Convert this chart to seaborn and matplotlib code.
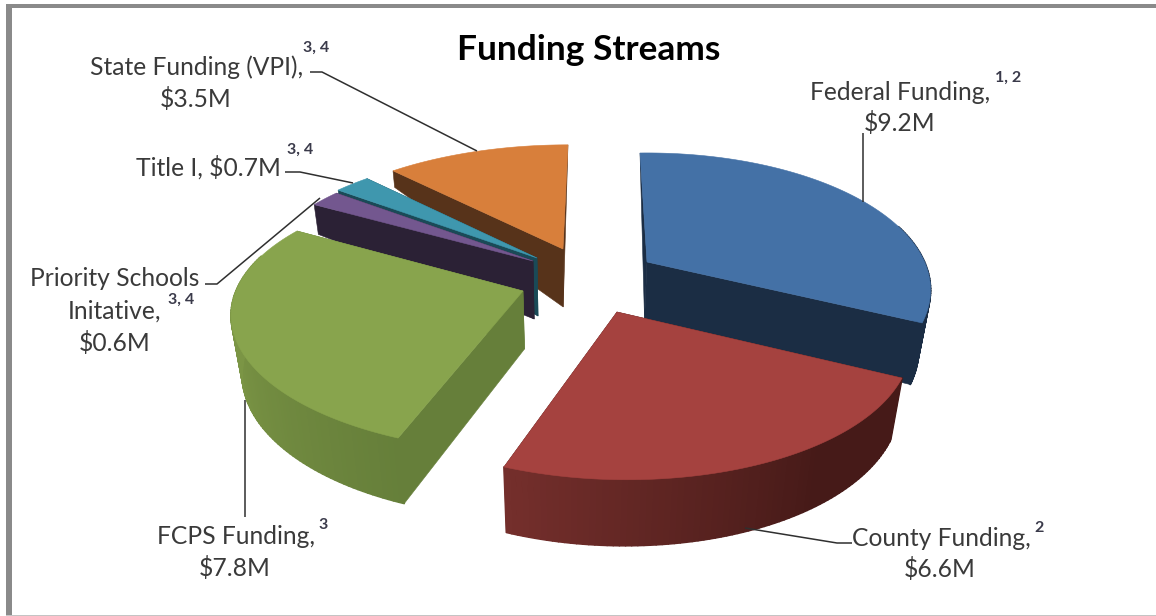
import numpy as np
import matplotlib
matplotlib.use("Agg")
import matplotlib.pyplot as plt
from matplotlib.collections import PolyCollection
from matplotlib.patches import Polygon, Rectangle
import seaborn as sns

# Funding data in $M, clockwise from twelve o'clock
categories = ["Federal Funding", "County Funding", "FCPS Funding",
              "Priority Schools Initative", "Title I", "State Funding (VPI)"]
values = [9.2, 6.6, 7.8, 0.6, 0.7, 3.5]
footnotes = ["1, 2", "2", "3", "3, 4", "3, 4", "3, 4"]

sns.set_theme(style="white")
plt.rcParams["font.family"] = ["Lato", "DejaVu Sans"]

top_colors = sns.color_palette(["#4471a6", "#a5423f", "#88a44d",
                                "#73578f", "#3f97ae", "#d87f3b"])
face_colors = sns.color_palette(["#1b2d44", "#461a18", "#667f3a",
                                 "#2b2135", "#1a4a57", "#57331a"])

# Lighter rim colour and the clock angles over which it fades to the face colour
rim_fade = {1: ("#752f2c", 200.0, 145.0), 2: ("#7b9545", 255.0, 200.0)}

# Exploded slice placement: hub position and a 2x2 plane-to-screen matrix per slice
views = [
    ((647, 262), (276.0, -8.4, -3.5, -130.8)),
    ((617, 312), (286.3, -7.9, 0.0, -134.2)),
    ((523, 291), (285.5, 2.7, 3.6, -128.7)),
    ((533, 261), (275.0, 0.0, 0.0, -127.0)),
    ((537, 258), (278.0, 0.0, 0.0, -127.0)),
    ((563, 249), (284.0, 6.0, 0.0, -125.0)),
]
PERSPECTIVE = 0.2
THICKNESS = 58.0
VANISH_X, CONVERGE = 570.0, 0.033
paint_order = [5, 4, 3, 2, 0, 1]

fig = plt.figure(figsize=(11.56, 6.16), dpi=100, facecolor="white")
ax = fig.add_axes([0, 0, 1, 1])
ax.set_xlim(0, 1156)
ax.set_ylim(616, 0)
ax.axis("off")


def to_screen(theta, view, r=1.0):
    """Project disc points at clock angle theta (degrees) onto the canvas."""
    (hx, hy), (a, b, c, e) = view
    th = np.radians(np.atleast_1d(theta))
    u, v = r * np.sin(th), r * np.cos(th)
    s = 1.0 / (1.0 + PERSPECTIVE * v)
    U, V = u * s, v * s
    return np.column_stack([hx + a * U + b * V, hy + c * U + e * V]), v


def drop(points, v):
    """Lower edge of the slice below a set of top-surface points."""
    depth = np.where(v > 0, THICKNESS * (1 - v), THICKNESS - 8.0 * v)
    x = points[:, 0] - CONVERGE * (points[:, 0] - VANISH_X) * depth / 60.0
    return np.column_stack([x, points[:, 1] + depth])


def blend(c0, c1, f):
    return tuple((1 - f) * np.array(matplotlib.colors.to_rgb(c0))
                 + f * np.array(matplotlib.colors.to_rgb(c1)))


edges = np.concatenate([[0.0], np.cumsum(values)]) / np.sum(values) * 360.0

for z, i in enumerate(paint_order):
    view = views[i]
    t0, t1 = edges[i], edges[i + 1]
    thetas = np.linspace(t0, t1, max(int(t1 - t0), 4))
    rim, v_rim = to_screen(thetas, view)
    rim_low = drop(rim, v_rim)
    hub, v_hub = to_screen(0.0, view, r=0.0)
    hub_low = drop(hub, v_hub)
    base = 10 + z * 5

    # Radial cut faces
    for end, end_low in ((rim[0], rim_low[0]), (rim[-1], rim_low[-1])):
        ax.add_patch(Polygon([hub[0], end, end_low, hub_low[0]], closed=True,
                             facecolor=face_colors[i], edgecolor=face_colors[i],
                             linewidth=0.4, zorder=base))

    # Outer wall, split in strips so the shading can vary along the arc;
    # the far side of the rim stays hidden behind the top surface
    quads, shades = [], []
    for k in range(len(thetas) - 1):
        if v_rim[k] > 0.25 and v_rim[k + 1] > 0.25:
            continue
        quads.append([rim[k], rim[k + 1], rim_low[k + 1], rim_low[k]])
        shade = face_colors[i]
        if i in rim_fade:
            light, start, stop = rim_fade[i]
            f = np.clip((start - thetas[k]) / (start - stop), 0, 1)
            shade = blend(light, face_colors[i], f)
        shades.append(shade)
    if quads:
        ax.add_collection(PolyCollection(quads, facecolors=shades, edgecolors=shades,
                                         linewidths=1.2, zorder=base + 1))

    # Top surface
    ax.add_patch(Polygon(np.vstack([hub, rim]), closed=True,
                         facecolor=top_colors[i], edgecolor=top_colors[i],
                         linewidth=0.4, zorder=base + 2))

# Chart frame
frame = "#8a8a8a"
ax.add_patch(Rectangle((6, 4), 6, 612, facecolor=frame, edgecolor="none", zorder=60))
ax.add_patch(Rectangle((6, 4), 1150, 4, facecolor=frame, edgecolor="none", zorder=60))
ax.add_patch(Rectangle((6, 614.5), 1150, 1.5, facecolor="#c4c4c4", edgecolor="none", zorder=60))

# Leader lines
leaders = [
    [(863, 133), (863, 202)],
    [(852, 543), (837, 543), (745, 528)],
    [(245, 517), (245, 400)],
    [(205, 284), (217, 284), (320, 198)],
    [(285, 172), (300, 172), (353, 183)],
    [(310, 72), (322, 72), (477, 151)],
]
for path in leaders:
    xs, ys = zip(*path)
    ax.plot(xs, ys, color="#2f2f2f", lw=1.1, zorder=70, solid_capstyle="butt")

# Labels
ink = "#3a3a3a"
size = 17.7
money = [f"${v}M" for v in values]
label_lines = [
    [(f"{categories[0]},", 900, 93), (money[0], 900, 123)],
    [(f"{categories[1]},", 941, 538), (money[1], 940, 569)],
    [(f"{categories[2]},", 236, 537), (money[2], 235, 568)],
    [("Priority Schools", 115, 279), ("Initative,", 115, 311), (money[3], 115, 343)],
    [(f"{categories[4]}, {money[4]}", 208, 167)],
    [(f"{categories[5]},", 197, 67), (money[5], 196, 99)],
]
for lines in label_lines:
    for text, x, y in lines:
        ax.text(x, y, text, ha="center", va="center", fontsize=size, color=ink, zorder=80)

note_positions = [(1008, 78), (1039, 528), (323, 525), (181, 300), (300, 150), (316, 48)]
for note, (x, y) in zip(footnotes, note_positions):
    ax.text(x, y, note, ha="center", va="center", fontsize=11.5, fontweight="bold",
            color="#3a3a4a", zorder=80)

ax.text(589, 50, "Funding Streams", ha="center", va="center", fontsize=25.4,
        fontweight="bold", color="black", zorder=80)

fig.savefig("out.png", dpi=100, facecolor="white")
